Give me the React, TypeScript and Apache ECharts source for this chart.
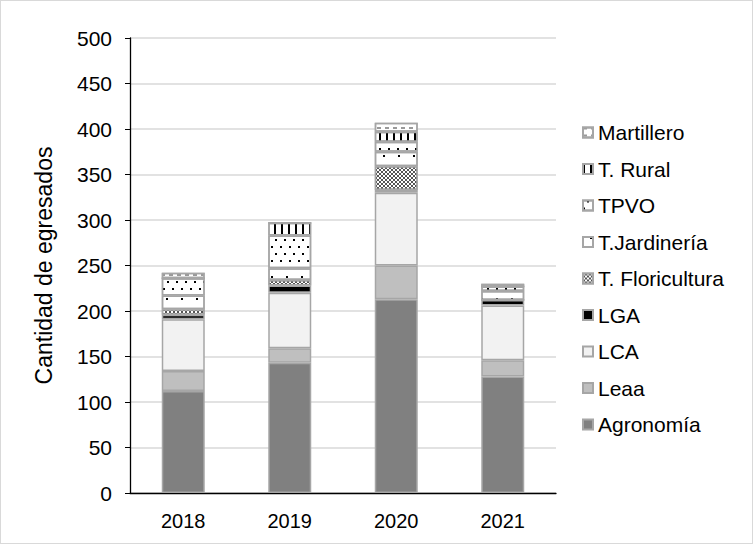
import React, { useEffect, useRef } from "react";
import * as echarts from "echarts";

const years = ["2018", "2019", "2020", "2021"];
const agronomia = [112, 143, 213, 128];
const leaa = [22, 16, 37, 18];
const lca = [57, 61, 80, 60];
const lga = [5, 8, 3, 6];
const tFloricultura = [6, 6, 26, 0];
const tJardineria = [15, 13, 16, 10];
const tpvo = [19, 36, 11, 5];
const tRural = [0, 14, 11, 0];
const martillero = [6, 0, 10, 3];

const FONT = "Liberation Sans, Arial, sans-serif";

export default function App() {
  const ref = useRef<HTMLDivElement>(null);
  useEffect(() => {
    if (!ref.current) return;
    const chart = echarts.init(ref.current, null, { renderer: "svg" });
    const border = { borderColor: "#a6a6a6", borderWidth: 1.5 };
    const mk = (name: string, data: number[], color: string, decal?: any) => ({
      name,
      type: "bar",
      stack: "total",
      barWidth: 43,
      data,
      itemStyle: { color, ...border, ...(decal ? { decal } : {}) },
      emphasis: { disabled: true },
    });
    const series = [
      mk("Agronomía", agronomia, "#808080"),
      mk("Leaa", leaa, "#bfbfbf"),
      mk("LCA", lca, "#f2f2f2"),
      mk("LGA", lga, "#000000"),
      mk("T. Floricultura", tFloricultura, "#ffffff", {
        symbol: "rect",
        symbolSize: 1,
        color: "#555555",
        dashArrayX: [[1.5, 1.5], [0, 1.5, 1.5, 0]],
        dashArrayY: [1.5, 0],
      }),
      mk("T.Jardinería", tJardineria, "#ffffff", {
        symbol: "rect",
        symbolSize: 1,
        color: "#000000",
        dashArrayX: [[1.5, 13], [0, 7, 1.5, 5.5]],
        dashArrayY: [1.5, 9],
      }),
      mk("TPVO", tpvo, "#ffffff", {
        symbol: "rect",
        symbolSize: 1,
        color: "#000000",
        dashArrayX: [[1.5, 7], [0, 4, 1.5, 2.5]],
        dashArrayY: [1.5, 4.5],
      }),
      mk("T. Rural", tRural, "#ffffff", {
        symbol: "rect",
        symbolSize: 1,
        color: "#000000",
        dashArrayX: [1.5, 4.5],
        dashArrayY: [10, 0],
      }),
      mk("Martillero", martillero, "#ffffff", {
        symbol: "rect",
        symbolSize: 1,
        color: "#999999",
        dashArrayX: [4, 4],
        dashArrayY: [1.5, 5],
      }),
    ];
    chart.setOption({
      animation: false,
      backgroundColor: "#ffffff",
      textStyle: { fontFamily: FONT },
      grid: { left: 129, right: 196, top: 37, bottom: 50, containLabel: false },
      legend: {
        orient: "vertical",
        left: 581,
        top: 121,
        padding: 0,
        itemWidth: 10,
        itemHeight: 10,
        itemGap: 15.5,
        icon: "rect",
        selectedMode: false,
        data: [
          "Martillero",
          "T. Rural",
          "TPVO",
          "T.Jardinería",
          "T. Floricultura",
          "LGA",
          "LCA",
          "Leaa",
          "Agronomía",
        ],
        textStyle: { fontFamily: FONT, fontSize: 21, lineHeight: 20, color: "#000" },
      },
      xAxis: {
        type: "category",
        data: years,
        axisLine: { lineStyle: { color: "#000", width: 1.3 } },
        axisTick: { show: false },
        axisLabel: { fontFamily: FONT, fontSize: 20, color: "#000", margin: 18 },
      },
      yAxis: {
        type: "value",
        min: 0,
        max: 500,
        interval: 50,
        name: "Cantidad de egresados",
        nameLocation: "middle",
        nameGap: 75,
        nameTextStyle: { fontFamily: FONT, fontSize: 23, color: "#000" },
        axisLine: { show: true, lineStyle: { color: "#000", width: 1.3 } },
        axisTick: { show: true, length: 5, lineStyle: { color: "#000" } },
        axisLabel: { fontFamily: FONT, fontSize: 21, color: "#000", margin: 18 },
        splitLine: { lineStyle: { color: "#d9d9d9", width: 1.5 } },
      },
      series,
    });
    return () => chart.dispose();
  }, []);
  return (
    <div
      style={{
        position: "fixed",
        left: 0,
        top: 0,
        width: 753,
        height: 544,
        boxSizing: "border-box",
        border: "1px solid #d9d9d9",
        background: "#fff",
      }}
    >
      <div ref={ref} style={{ width: 751, height: 542 }} />
    </div>
  );
}
